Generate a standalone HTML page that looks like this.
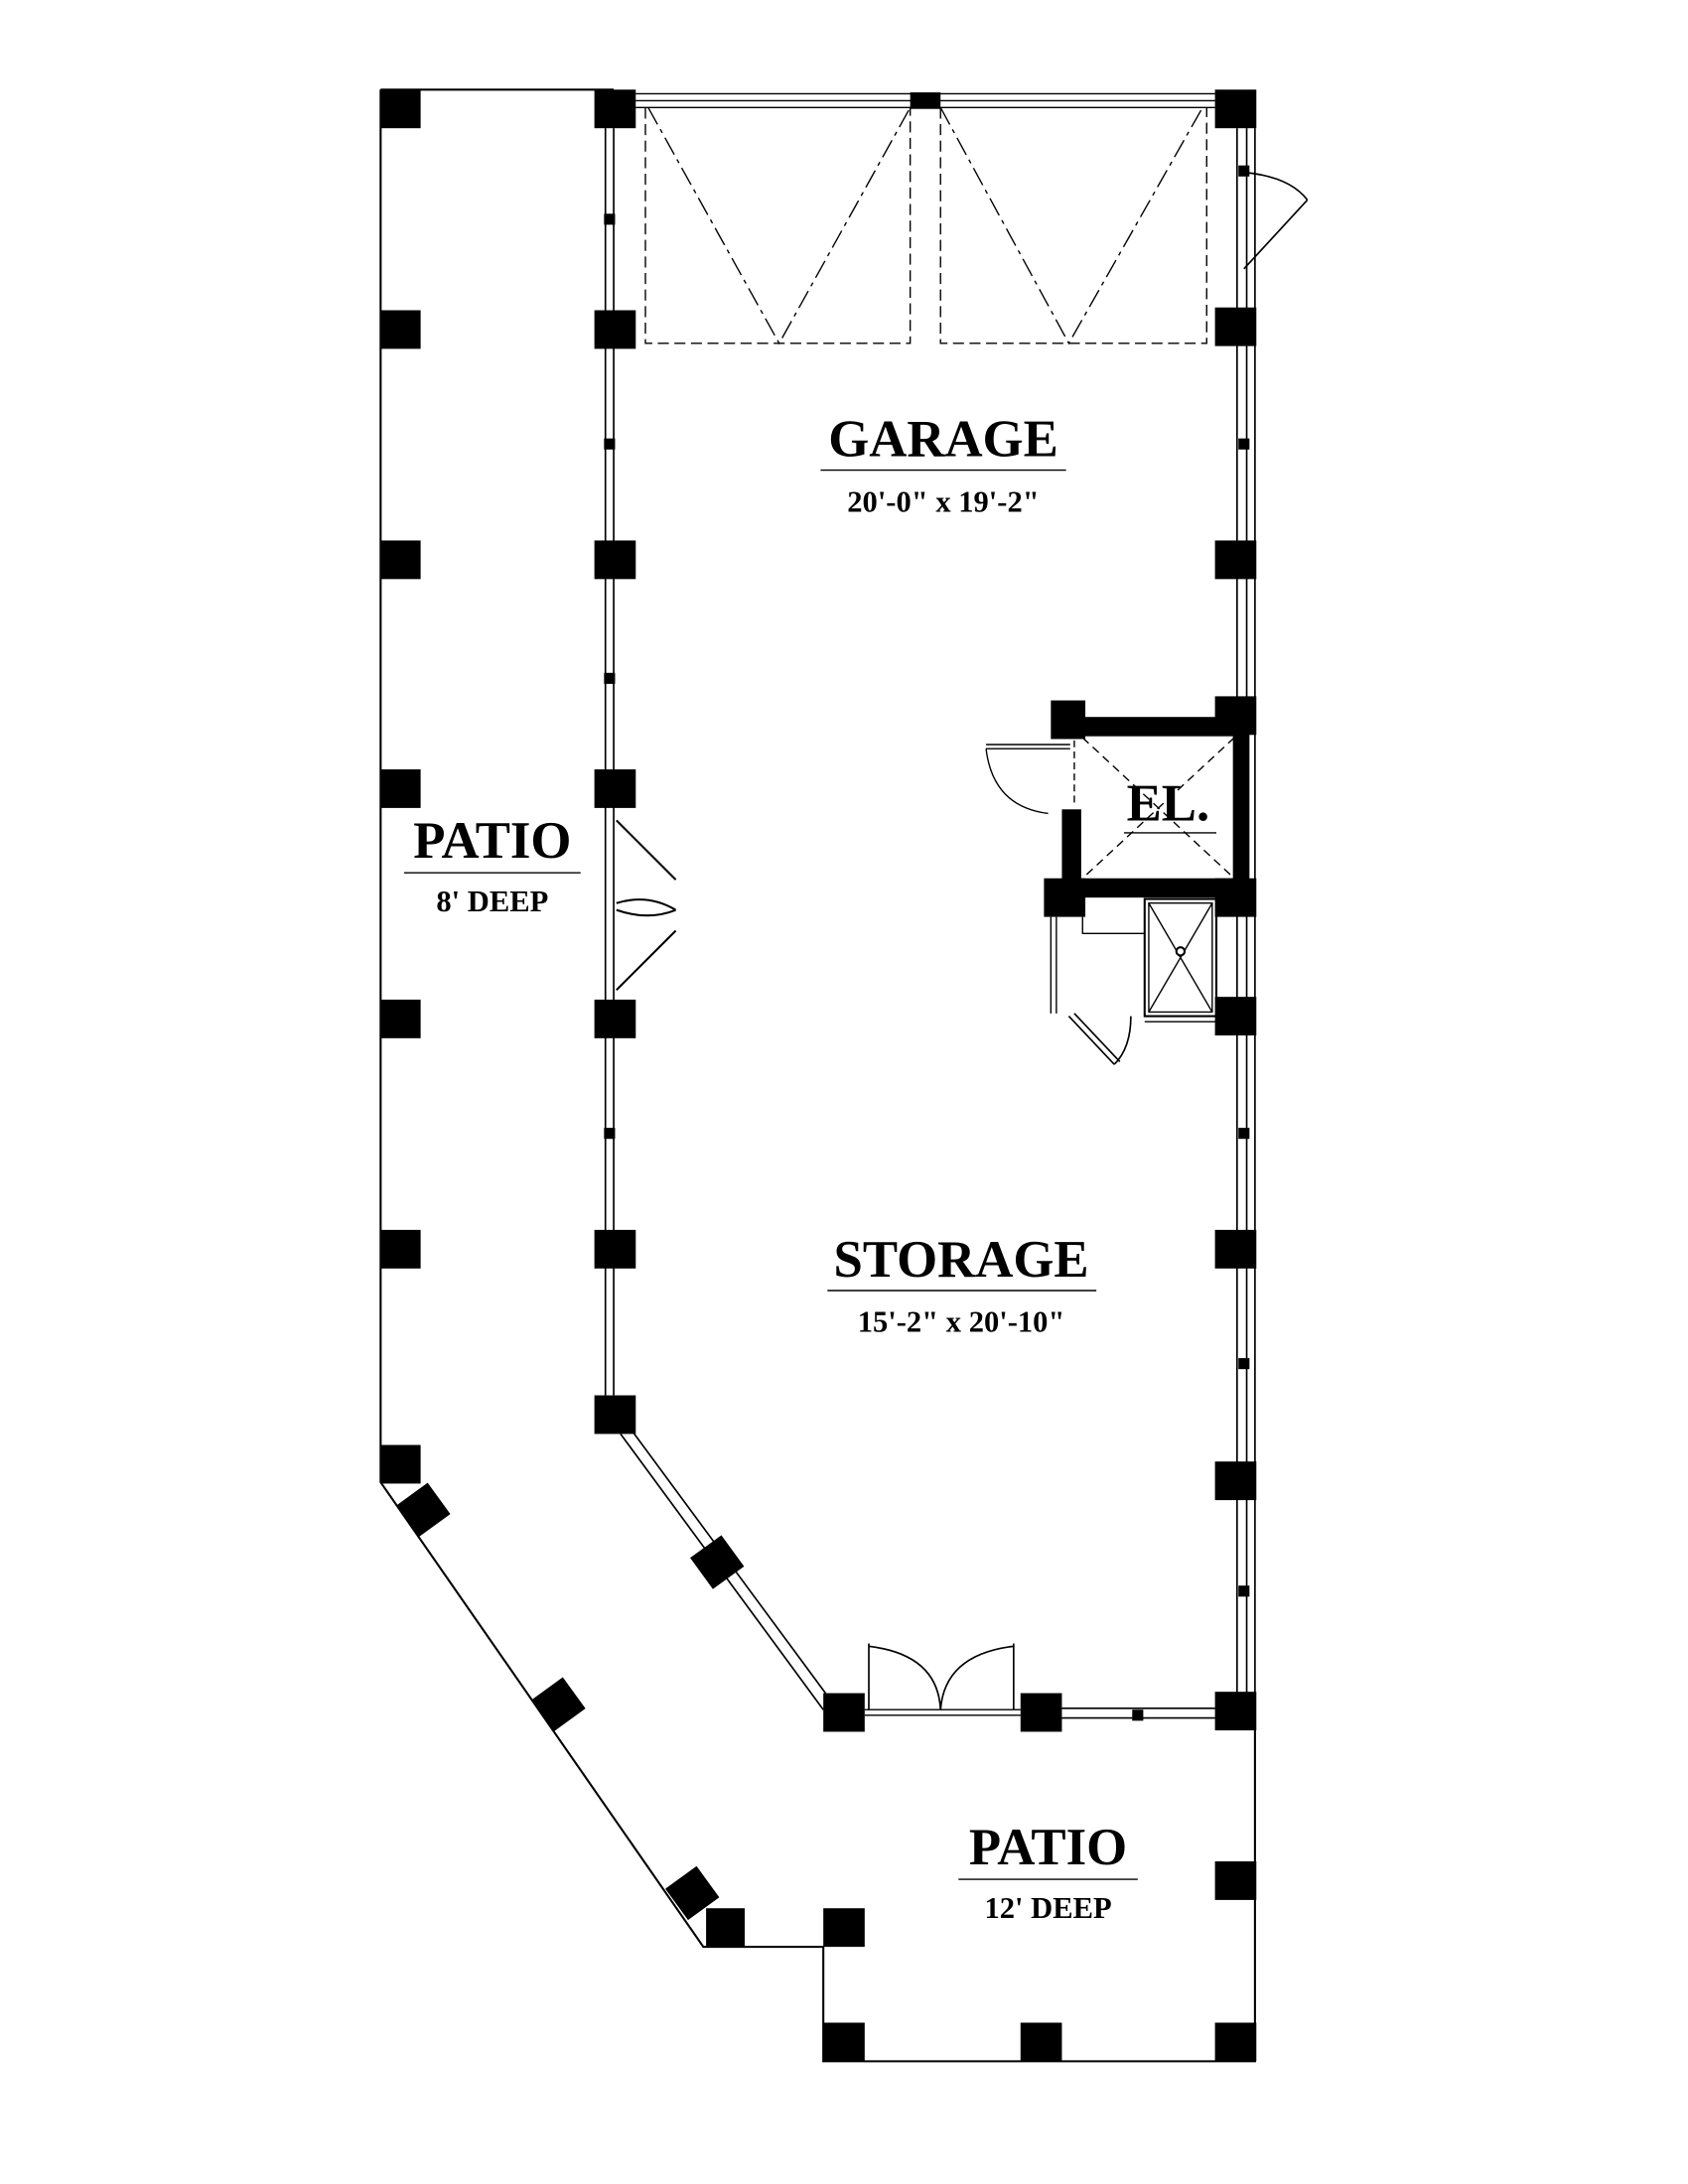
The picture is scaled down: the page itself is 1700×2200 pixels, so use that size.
<!DOCTYPE html>
<html><head><style>html,body{margin:0;padding:0;background:#fff}svg{display:block}</style></head>
<body>
<svg width="1700" height="2200" viewBox="0 0 1224 1584" xmlns="http://www.w3.org/2000/svg">
<g fill="none" stroke="#000" stroke-width="1.5">
<path d="M276,65 H445 M276,65 V1075 L510,1412 H597 V1495 H910 V1255"/>
<path d="M461,68 H881 M461,78 H881 M461,73 H881" stroke-width="1"/>
<path d="M439,93 V1012 M445,93 V1012" stroke-width="1.2"/>
<path d="M897,93 V1230 M904,93 V1230 M910,93 V1230" stroke-width="1.2"/>
<path d="M450,1040 L597,1240 M457,1036 L603,1234" stroke-width="1.2"/>
<path d="M770,1239 H881 M770,1246 H881" stroke-width="1.2"/>
<path d="M627,1240 H740 M627,1244 H740" stroke-width="1"/>
<path d="M468,78 V249 H660 V78 M682,78 V249 H875 V78" stroke-dasharray="8,4" stroke-width="1"/>
<path d="M470,78 L565,249 L660,78 M682,78 L775,249 L872,78" stroke-dasharray="14,4,3,4" stroke-width="1"/>
<path d="M902,195 L948,145 M902,125 Q935,128 948,145" stroke-width="1.2"/>
<path d="M447,595 L490,638 M447,718 L490,675 M447,655 Q470,648 490,660 M447,660 Q470,668 490,660" stroke-width="1.5"/>
<path d="M630,1192 V1240 M735,1192 V1240 M630,1194 Q680,1200 682,1240 M735,1194 Q685,1200 682,1240" stroke-width="1.2"/>
<path d="M785,535 L895,637 M895,535 L785,637" stroke-dasharray="6,4" stroke-width="1"/>
<path d="M779,537 V584" stroke-dasharray="5,3" stroke-width="1"/>
<path d="M715,543 H776 M715,540 H776 M715,543 Q720,585 760,590" stroke-width="1"/>
<path d="M762,665 V735 M766,665 V735 M785,665 V677 H830" stroke-width="1"/>
<rect x="830" y="652" width="52" height="85"/>
<path d="M833,655 H879 V734 H833 Z M833,655 L879,734 M879,655 L833,734" stroke-width="1"/>
<circle cx="856" cy="690" r="3" fill="#fff"/>
<path d="M830,737 H882 M830,741 H882" stroke-width="1"/>
<path d="M775,737 L808,772 M779,735 L812,770 M808,772 Q820,760 820,737" stroke-width="1.2"/>
</g>
<g fill="#000">
<rect x="770" y="520" width="135" height="14"/>
<rect x="770" y="637" width="135" height="14"/>
<rect x="894" y="520" width="12" height="135"/>
<rect x="770" y="587" width="14" height="55"/>
<rect x="762" y="508" width="25" height="28"/>
<rect x="757" y="637" width="30" height="28"/>
<rect x="276" y="65" width="29" height="28"/><rect x="276" y="225" width="29" height="28"/>
<rect x="276" y="392" width="29" height="28"/><rect x="276" y="558" width="29" height="28"/>
<rect x="276" y="725" width="29" height="28"/><rect x="276" y="892" width="29" height="28"/>
<rect x="276" y="1048" width="29" height="28"/>
<rect x="431" y="65" width="30" height="28"/><rect x="431" y="225" width="30" height="28"/>
<rect x="431" y="392" width="30" height="28"/><rect x="431" y="558" width="30" height="28"/>
<rect x="431" y="725" width="30" height="28"/><rect x="431" y="892" width="30" height="28"/>
<rect x="431" y="1012" width="30" height="28"/>
<rect x="660" y="67" width="22" height="12"/>
<rect x="438" y="155" width="8" height="8"/><rect x="438" y="318" width="8" height="8"/>
<rect x="438" y="488" width="8" height="8"/><rect x="438" y="818" width="8" height="8"/>
<rect x="898" y="120" width="8" height="8"/><rect x="898" y="318" width="8" height="8"/>
<rect x="898" y="818" width="8" height="8"/><rect x="898" y="985" width="8" height="8"/>
<rect x="898" y="1150" width="8" height="8"/><rect x="821" y="1240" width="8" height="8"/>
<rect x="881" y="65" width="30" height="28"/><rect x="881" y="223" width="30" height="28"/>
<rect x="881" y="392" width="30" height="28"/><rect x="881" y="505" width="30" height="28"/>
<rect x="881" y="637" width="30" height="28"/><rect x="881" y="723" width="30" height="28"/>
<rect x="881" y="892" width="30" height="28"/><rect x="881" y="1060" width="30" height="28"/>
<rect x="881" y="1227" width="30" height="28"/>
<rect x="597" y="1228" width="30" height="28"/><rect x="740" y="1228" width="30" height="28"/>
<rect x="-14" y="-14" width="28" height="28" transform="translate(520,1133) rotate(-36)"/>
<rect x="-14" y="-14" width="28" height="28" transform="translate(307,1095) rotate(-36)"/>
<rect x="-14" y="-14" width="28" height="28" transform="translate(405,1236) rotate(-36)"/>
<rect x="-14" y="-14" width="28" height="28" transform="translate(502,1373) rotate(-36)"/>
<rect x="512" y="1384" width="28" height="28"/><rect x="597" y="1384" width="30" height="28"/>
<rect x="881" y="1350" width="30" height="28"/>
<rect x="597" y="1467" width="30" height="28"/><rect x="740" y="1467" width="30" height="28"/>
<rect x="881" y="1467" width="30" height="28"/>
</g>
<g font-family="Liberation Serif, serif" text-anchor="middle" fill="#000" font-weight="bold">
<text x="684" y="331" font-size="38">GARAGE</text>
<line x1="595" y1="341" x2="773" y2="341" stroke="#000" stroke-width="1"/>
<text x="684" y="371" font-size="22">20'-0" x 19'-2"</text>
<text x="697" y="926" font-size="38">STORAGE</text>
<line x1="600" y1="936" x2="795" y2="936" stroke="#000" stroke-width="1"/>
<text x="697" y="966" font-size="22">15'-2" x 20'-10"</text>
<text x="357" y="622" font-size="38">PATIO</text>
<line x1="293" y1="633" x2="421" y2="633" stroke="#000" stroke-width="1"/>
<text x="357" y="661" font-size="22">8' DEEP</text>
<text x="760" y="1352" font-size="38">PATIO</text>
<line x1="695" y1="1363" x2="825" y2="1363" stroke="#000" stroke-width="1"/>
<text x="760" y="1391" font-size="22">12' DEEP</text>
<text x="847" y="595" font-size="38">EL.</text>
<line x1="815" y1="604" x2="882" y2="604" stroke="#000" stroke-width="1"/>
</g>
</svg>
</body></html>
